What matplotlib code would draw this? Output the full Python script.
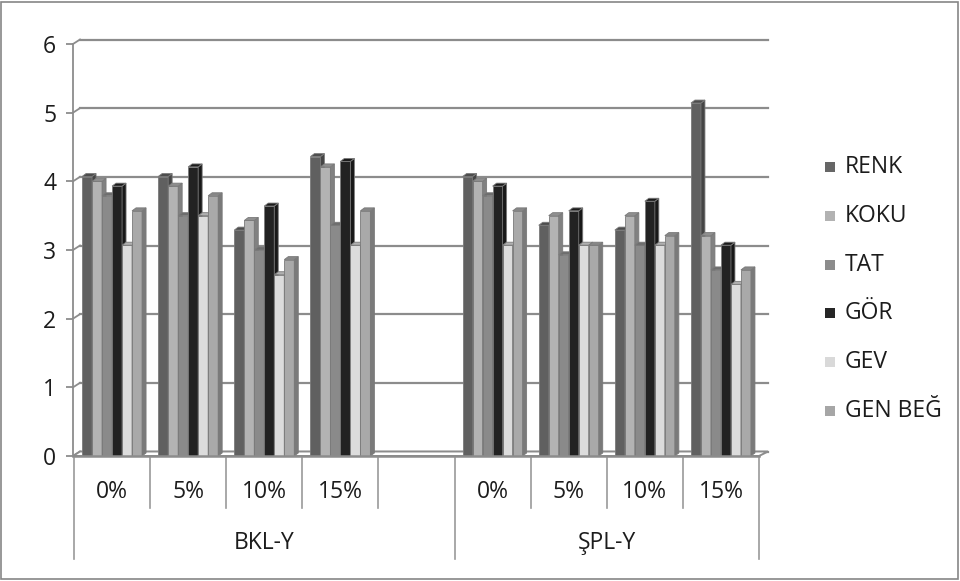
import numpy as np
import matplotlib
matplotlib.use("Agg")
import matplotlib.pyplot as plt
from matplotlib.patches import Polygon, Rectangle
from matplotlib.colors import to_rgb

plt.rcParams["font.family"] = ["Open Sans", "DejaVu Sans"]

# Sensory scores (14 panellists) per formulation; the fifth slot of BKL-Y is empty
SERIES = ["RENK", "KOKU", "TAT", "GÖR", "GEV", "GEN BEĞ"]
GROUPS = ["BKL-Y", "ŞPL-Y"]
SLOT_LABELS = ["0%", "5%", "10%", "15%", "", "0%", "5%", "10%", "15%"]

RENK = [4.07, 4.07, 3.29, 4.36, np.nan, 4.07, 3.36, 3.29, 5.14]
KOKU = [4.00, 3.93, 3.43, 4.21, np.nan, 4.00, 3.50, 3.50, 3.21]
TAT = [3.79, 3.50, 3.00, 3.36, np.nan, 3.79, 2.93, 3.07, 2.71]
GOR = [3.93, 4.21, 3.64, 4.29, np.nan, 3.93, 3.57, 3.71, 3.07]
GEV = [3.07, 3.50, 2.64, 3.07, np.nan, 3.07, 3.07, 3.07, 2.50]
GEN_BEG = [3.57, 3.79, 2.86, 3.57, np.nan, 3.57, 3.07, 3.21, 2.71]
VALUES = [RENK, KOKU, TAT, GOR, GEV, GEN_BEG]

FACE = ["#606060", "#b3b3b3", "#8a8a8a", "#222222", "#dcdcdc", "#a9a9a9"]
LEGEND_FACE = ["#666666", "#b2b2b2", "#8c8c8c", "#262626", "#d9d9d9", "#a6a6a6"]
EDGE = "#7a7a7a"
GRID = "#8c8c8c"
TEXT = "#1c1c1c"
FS = 16.5

W_PX, H_PX = 960, 581
X0, X1, Y0, Y1 = 74, 759, 456, 44          # plot area in pixels
N_SLOTS = len(SLOT_LABELS)
PX_X = (X1 - X0) / N_SLOTS                 # pixels per category slot
PX_Y = (Y0 - Y1) / 6                       # pixels per score unit


def shade(color, f):
    return tuple(c * f for c in to_rgb(color))


fig = plt.figure(figsize=(W_PX / 100, H_PX / 100), dpi=100)
ax = fig.add_axes([X0 / W_PX, 1 - Y0 / H_PX, (X1 - X0) / W_PX, (Y0 - Y1) / H_PX])
ax.set_xlim(0, N_SLOTS)
ax.set_ylim(0, 6)
ax.set_facecolor("none")
for s in ["top", "right", "bottom"]:
    ax.spines[s].set_visible(False)
ax.spines["left"].set_color(GRID)
ax.spines["left"].set_linewidth(1.3)
ax.spines["left"].set_position(("data", -1 / PX_X))

# y axis ticks
ax.set_yticks(range(7))
ax.tick_params(axis="y", length=5, width=1.3, color=GRID, labelsize=FS,
               labelcolor=TEXT, pad=7)
ax.set_xticks([])

# back wall gridlines with the diagonal joints to the axis
wl, wr, wy = 6 / PX_X, 9 / PX_X, 4.5 / PX_Y
for v in range(7):
    ax.plot([wl, N_SLOTS + wr], [v + wy, v + wy], color=GRID, lw=1.6,
            zorder=1, clip_on=False)
    ax.plot([-1 / PX_X, wl], [v, v + wy], color=GRID, lw=1.3, zorder=1,
            clip_on=False)

# thin floor slab
floor = Polygon([(-1 / PX_X, 0), (N_SLOTS, 0), (N_SLOTS + wr, wy), (wl, wy)],
                closed=True, facecolor="white", edgecolor=GRID, lw=1.4,
                zorder=2, clip_on=False)
ax.add_patch(floor)

# 3-D style columns: front face, right side face, top cap
n = len(SERIES)
bw = 10 / PX_X
ddx, ddy = 4 / PX_X, 3 / PX_Y
centers = np.arange(N_SLOTS) + 0.5
for j, vals in enumerate(VALUES):
    vals = np.asarray(vals, dtype=float)
    xs = centers + (j - (n - 1) / 2) * bw
    ok = ~np.isnan(vals)
    ax.bar(xs[ok], vals[ok], width=bw, color=FACE[j], edgecolor=EDGE,
           linewidth=0.6, zorder=3)
    for x, v in zip(xs[ok], vals[ok]):
        r = x + bw / 2
        l = x - bw / 2
        side = Polygon([(r, 0), (r + ddx, ddy), (r + ddx, v + ddy), (r, v)],
                       closed=True, facecolor=shade(FACE[j], 0.72),
                       edgecolor=EDGE, lw=0.6, zorder=3)
        top = Polygon([(l, v), (r, v), (r + ddx, v + ddy), (l + ddx, v + ddy)],
                      closed=True, facecolor=shade(FACE[j], 0.8),
                      edgecolor=EDGE, lw=0.6, zorder=3)
        ax.add_patch(side)
        ax.add_patch(top)

# front edge of the floor doubles as the category axis line
ax.plot([-1 / PX_X, N_SLOTS], [0, 0], color=GRID, lw=1.8, zorder=4,
        clip_on=False)

# two-level category axis
for k in range(N_SLOTS + 1):
    bottom = 103 if k in (0, 5, N_SLOTS) else 52
    ax.plot([k, k], [-2 / PX_Y, -bottom / PX_Y], color="#9a9a9a", lw=1.2,
            clip_on=False)
for x, lab in zip(centers, SLOT_LABELS):
    ax.text(x, -36 / PX_Y, lab, ha="center", va="center", fontsize=FS,
            color=TEXT, clip_on=False)
for (a, b), g in zip([(0, 5), (5, N_SLOTS)], GROUPS):
    ax.text((a + b) / 2, -87 / PX_Y, g, ha="center", va="center", fontsize=FS,
            color=TEXT, clip_on=False)

# legend
for k, (name, col) in enumerate(zip(SERIES, LEGEND_FACE)):
    y = 167 + k * 48.8
    fig.add_artist(Rectangle((825 / W_PX, 1 - (y + 5) / H_PX), 10 / W_PX, 10 / H_PX,
                             facecolor=col, edgecolor="none",
                             transform=fig.transFigure))
    fig.text(845 / W_PX, 1 - y / H_PX, name, ha="left", va="center",
             fontsize=FS, color=TEXT)

# chart border
fig.add_artist(Rectangle((1 / W_PX, 2 / H_PX), 957 / W_PX, 577 / H_PX,
                         fill=False, edgecolor="#868686", lw=1.2,
                         transform=fig.transFigure))

fig.savefig("out.png", dpi=100)
